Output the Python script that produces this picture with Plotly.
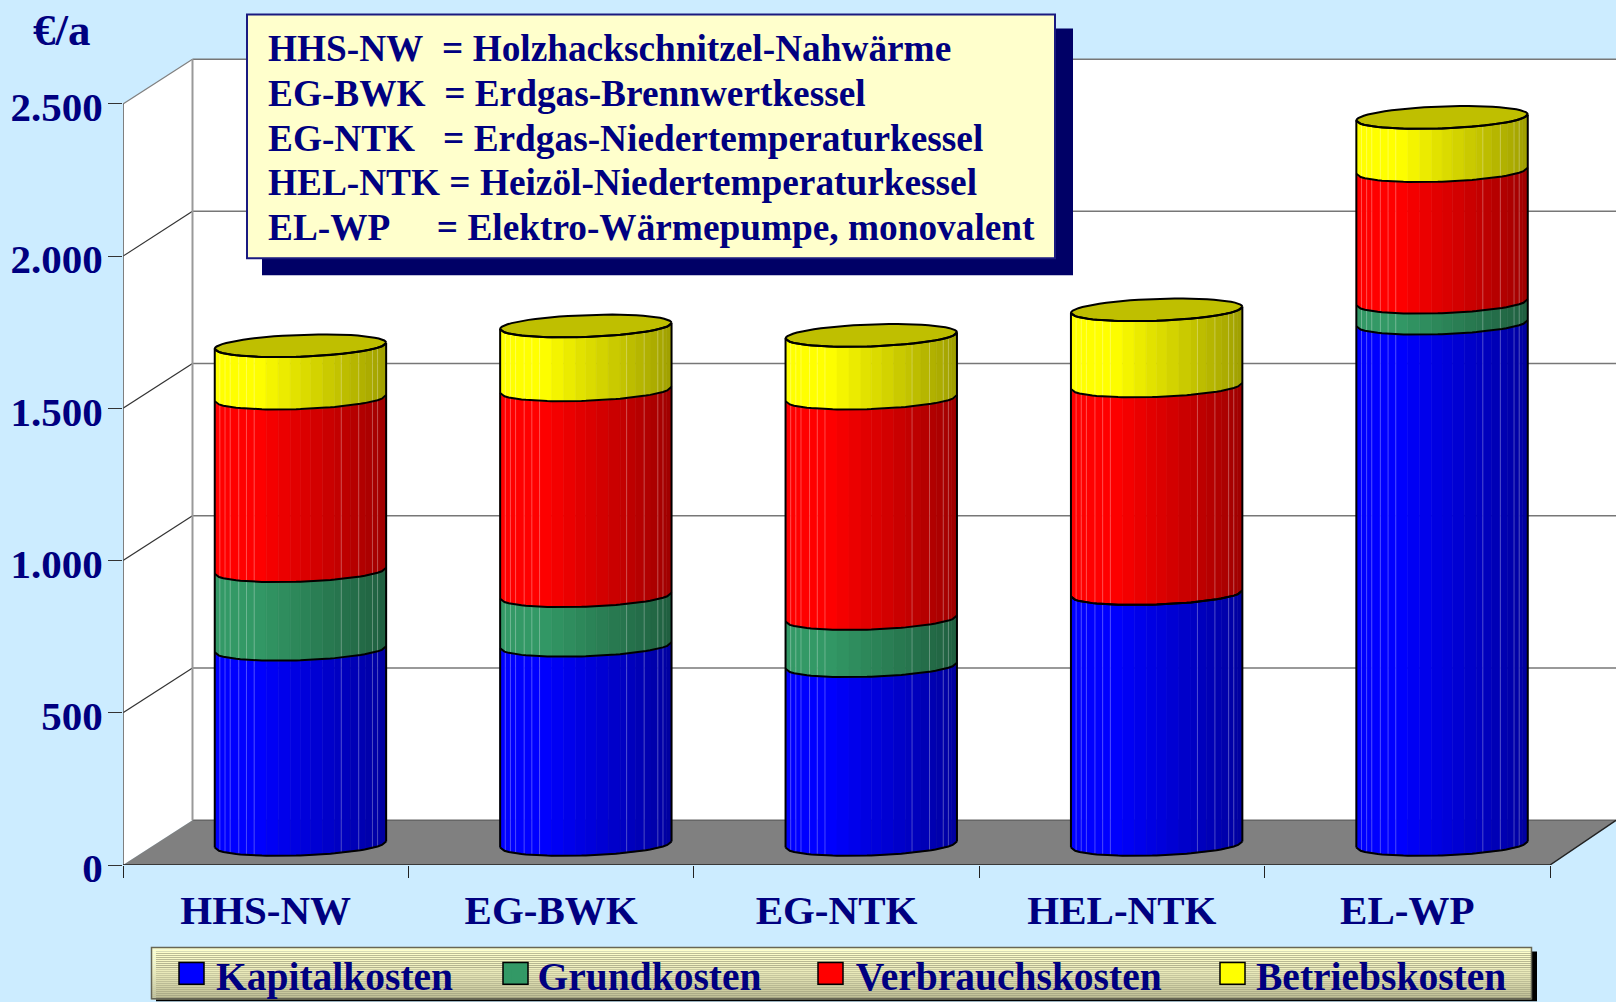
import numpy as np
import plotly.graph_objects as go

# Data (EUR per year, stacked)
categories = ['HHS-NW', 'EG-BWK', 'EG-NTK', 'HEL-NTK', 'EL-WP']
kapitalkosten = [641, 654, 587, 824, 1712]
grundkosten = [258, 163, 155, 0, 69]
verbrauchskosten = [567, 676, 724, 682, 432]
betriebskosten = [172, 210, 206, 250, 175]

series_names = ['Kapitalkosten', 'Grundkosten', 'Verbrauchskosten', 'Betriebskosten']
series_values = [kapitalkosten, grundkosten, verbrauchskosten, betriebskosten]
series_colors = [(0, 0, 255), (51, 153, 102), (255, 0, 0), (255, 255, 0)]
legend_padding = [4, 5, 5, 0]
legend_swatch_x = [179, 503, 818, 1220]

y_ticks = [0, 500, 1000, 1500, 2000, 2500]
y_labels = ['0', '500', '1.000', '1.500', '2.000', '2.500']

box_rows = [
    'HHS-NW\u00a0\u00a0= Holzhackschnitzel-Nahwärme',
    'EG-BWK\u00a0\u00a0= Erdgas-Brennwertkessel',
    'EG-NTK\u00a0\u00a0\u00a0= Erdgas-Niedertemperaturkessel',
    'HEL-NTK\u00a0= Heizöl-Niedertemperaturkessel',
    'EL-WP\u00a0\u00a0\u00a0\u00a0\u00a0= Elektro-Wärmepumpe, monovalent',
]
box_row_y = [48, 93, 138, 182, 227]

NAVY = '#000080'
FONT = 'Liberation Serif'
BG = '#CCECFF'

# Page layout in pixels
W, H = 1616, 1002
LEFT, RIGHT, TOP, BOTTOM = 123, 1616, 42.5, 865.5
X_MAX = (RIGHT - LEFT) / 285.4
Y_MAX = 2700

def px(x):
    return (x - LEFT) / (RIGHT - LEFT)

def py(y):
    return (BOTTOM - y) / (BOTTOM - TOP)

# 3D look: depth of the floor and cylinder size in axis units
DX = 69.5 / 285.4
DY = 147
RADIUS = 85.7 / 285.4
ELL_B = 36
TILT = 10
LIFT = DY / 2 - 6
FACETS = [0, .03, .06, .09, .14, .185, .23, .30, .37, .44, .5, .56, .63, .70,
          .738, .79, .84, .88, .92, .95, .97, 1]
LIGHT_LINES = [.03, .06, .09, .14, .185, .23, .738, .84, .92, .95]

def shade(color, f):
    k = 1 if f < .25 else 1 - (f - .25) * .5
    return 'rgb(%d,%d,%d)' % tuple(int(c * k) for c in color)

def arc(center, value, f):
    # point on the front half of the ellipse at fraction f of the width
    cos_t = 2 * f - 1
    sin_t = np.sqrt(np.clip(1 - cos_t ** 2, 0, 1))
    return center + RADIUS * cos_t, value + LIFT - ELL_B * sin_t + TILT * cos_t

fig = go.Figure()

def add_poly(xs, ys, fill):
    fig.add_trace(go.Scatter(x=xs, y=ys, mode='lines', fill='toself', fillcolor=fill,
                             line=dict(width=0), hoverinfo='skip', showlegend=False))

def add_line(xs, ys, color, width):
    fig.add_trace(go.Scatter(x=xs, y=ys, mode='lines', line=dict(color=color, width=width),
                             hoverinfo='skip', showlegend=False, cliponaxis=False))

# Walls and floor
add_poly([DX, X_MAX, X_MAX, DX, DX], [DY, DY, 2500 + DY, 2500 + DY, DY], 'white')
add_poly([0, DX, DX, 0, 0], [0, DY, 2500 + DY, 2500, 0], 'white')
add_poly([0, DX, X_MAX, 5, 0], [0, DY, DY, 0, 0], '#808080')

# Grid on the back and side wall
for v in y_ticks[1:]:
    add_line([DX, X_MAX], [v + DY, v + DY], '#777777', 1.5)
    add_line([0, DX], [v, v + DY], '#808080' if v == 2500 else '#333333', 1.2)
add_line([DX, X_MAX], [DY, DY], '#666666', 1.5)
add_line([DX, DX], [DY, 2500 + DY], '#999999', 2)
add_line([0, 0], [0, 2500], '#555555', 1.5)
add_line([0, 5, X_MAX], [0, 0, DY], '#222222', 1.5)

# Cylinders, one trace per series and facet
centers = [i + 0.5 + DX / 2 for i in range(len(categories))]
tops = np.cumsum(series_values, axis=0)
bottoms = tops - np.array(series_values)

for s, color in enumerate(series_colors):
    for lo, hi in zip(FACETS[:-1], FACETS[1:]):
        fs = np.linspace(lo, hi, 4)
        xs, ys = [], []
        for c, v0, v1 in zip(centers, bottoms[s], tops[s]):
            low = [arc(c, v0, f) for f in fs]
            up = [arc(c, v1, f) for f in fs[::-1]]
            pts = low + up + low[:1]
            xs += [p[0] for p in pts] + [None]
            ys += [p[1] for p in pts] + [None]
        fill = shade(color, (lo + hi) / 2)
        fig.add_trace(go.Scatter(x=xs, y=ys, mode='lines', fill='toself', fillcolor=fill,
                                 line=dict(color=fill, width=0.6), hoverinfo='skip', showlegend=False))
    # thin light facet edges
    xs, ys = [], []
    for c, v0, v1 in zip(centers, bottoms[s], tops[s]):
        for f in LIGHT_LINES:
            a, b = arc(c, v0, f), arc(c, v1, f)
            xs += [a[0], b[0], None]
            ys += [a[1], b[1], None]
    fig.add_trace(go.Scatter(x=xs, y=ys, mode='lines', line=dict(color='rgba(255,255,255,0.28)', width=1),
                             hoverinfo='skip', showlegend=False))

# Top faces
ts = np.linspace(0, 2 * np.pi, 61)
xs, ys = [], []
for c, v in zip(centers, tops[-1]):
    xs += list(c + RADIUS * np.cos(ts)) + [None]
    ys += list(v + LIFT + ELL_B * np.sin(ts) + TILT * np.cos(ts)) + [None]
add_poly(xs, ys, '#BFBF00')
add_line(xs, ys, 'black', 2)

# Outlines of the segments
xs, ys = [], []
fine = np.linspace(0, 1, 41)
for i, c in enumerate(centers):
    for v in [0] + list(tops[:, i]):
        pts = [arc(c, v, f) for f in fine]
        xs += [p[0] for p in pts] + [None]
        ys += [p[1] for p in pts] + [None]
    for f in (0, 1):
        a, b = arc(c, 0, f), arc(c, tops[-1, i], f)
        xs += [a[0], b[0], None]
        ys += [a[1], b[1], None]
add_line(xs, ys, 'black', 2)

# Legend entries
for name, color, pad in zip(series_names, series_colors, legend_padding):
    fig.add_trace(go.Scatter(x=[None], y=[None], mode='markers', name=name + '\u00a0' * pad,
                             marker=dict(symbol='square', size=16, color='rgb(%d,%d,%d)' % color,
                                         line=dict(width=0))))

# Legend plate and text box drawn in page pixels
shapes = []

def rect(x0, y0, x1, y1, fill, line=None):
    shapes.append(dict(type='rect', xref='paper', yref='paper', x0=px(x0), x1=px(x1), y0=py(y0), y1=py(y1),
                       fillcolor=fill, line=dict(color=line, width=2) if line else dict(width=0)))

rect(262, 28, 1073, 275, '#000066')
rect(247, 14, 1055, 258, '#FFFFCC', '#1A1A80')

rect(156, 952, 1537, 1002, 'black')
steps = 26
for i in range(steps):
    k = (i / (steps - 1)) ** 1.5
    col = 'rgb(%d,%d,%d)' % (255 - 66 * k, 255 - 66 * k, 204 - 55 * k)
    rect(151.5, 948 + i * 2, 1531.5, 950.2 + i * 2, col)
shapes.append(dict(type='rect', xref='paper', yref='paper', x0=px(151.5), x1=px(1531.5), y0=py(948), y1=py(999.5),
                   line=dict(color='#666655', width=1.5)))
# the legend's own markers are small, so larger swatches sit behind them
for x0, color in zip(legend_swatch_x, series_colors):
    shapes.append(dict(type='rect', xref='paper', yref='paper', x0=px(x0), x1=px(x0 + 25), y0=py(963), y1=py(985),
                       fillcolor='rgb(%d,%d,%d)' % color, line=dict(color='black', width=1.5)))

annotations = [dict(xref='paper', yref='paper', x=px(31), y=py(29), text='€/a', showarrow=False,
                    xanchor='left', yanchor='middle',
                    font=dict(family=FONT, size=45, color=NAVY, weight=700))]
for row, y in zip(box_rows, box_row_y):
    annotations.append(dict(xref='paper', yref='paper', x=px(266), y=py(y), text=row, showarrow=False,
                            xanchor='left', yanchor='middle',
                            font=dict(family=FONT, size=37.3, color=NAVY, weight=700)))

fig.update_layout(
    width=W, height=H,
    margin=dict(l=LEFT, r=W - RIGHT, t=TOP, b=H - BOTTOM, autoexpand=False),
    paper_bgcolor=BG,
    plot_bgcolor='rgba(0,0,0,0)',
    shapes=shapes,
    annotations=annotations,
    hovermode=False,
    legend=dict(orientation='h', x=px(176), y=py(976), xanchor='left', yanchor='middle',
                bgcolor='rgba(0,0,0,0)', borderwidth=0, itemsizing='constant',
                font=dict(family=FONT, size=39.5, color=NAVY, weight=700)),
    xaxis=dict(range=[0, X_MAX], showgrid=False, zeroline=False, showline=False,
               tickmode='array', tickvals=[i + 0.5 for i in range(5)], ticktext=categories,
               ticks='', ticklabelstandoff=17,
               tickfont=dict(family=FONT, size=41, color=NAVY, weight=700),
               minor=dict(tickmode='array', tickvals=list(range(6)), ticks='outside', ticklen=12,
                          tickcolor='#222222', tickwidth=1.2, showgrid=False)),
    yaxis=dict(range=[0, Y_MAX], showgrid=False, zeroline=False, showline=False,
               tickmode='array', tickvals=y_ticks, ticktext=y_labels,
               ticks='outside', ticklen=14, tickcolor='#333333', tickwidth=1.2,
               ticklabelstandoff=-3, ticklabelshift=3,
               tickfont=dict(family=FONT, size=41, color=NAVY, weight=700)),
)

fig.write_html("out.html", config=dict(displayModeBar=False),
               post_script="document.body.style.margin='0';document.body.style.overflow='hidden';")
